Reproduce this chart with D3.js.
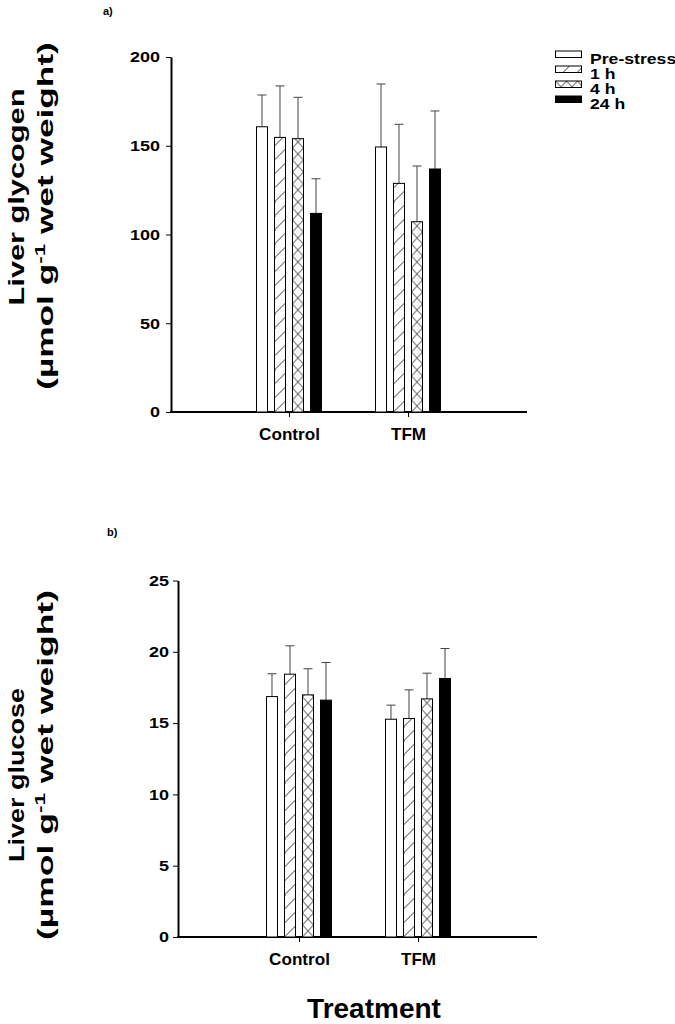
<!DOCTYPE html>
<html>
<head>
<meta charset="utf-8">
<script src="https://cdn.jsdelivr.net/npm/d3@7/dist/d3.min.js"></script>
<style>
  html, body { margin: 0; padding: 0; background: #fff; }
  svg { display: block; }
  text { font-family: "Liberation Sans", Arial, sans-serif; font-weight: bold; fill: #000; }
</style>
</head>
<body>
<svg id="chart" width="675" height="1024"></svg>
<script>
// ---------------- DATA ----------------
const categories = ["Control", "TFM"];
const series = ["Pre-stress", "1 h", "4 h", "24 h"];

const glycogenControl = [160.7, 154.7, 154.0, 111.9];
const glycogenTFM     = [149.3, 128.8, 107.2, 136.9];
const glycogenSEControl = [17.9, 29.0, 23.3, 19.5];
const glycogenSETFM     = [35.5, 33.3, 31.4, 32.7];
const glycogenTicks = [0, 50, 100, 150, 200];

const glucoseControl = [16.86, 18.43, 16.98, 16.61];
const glucoseTFM     = [15.27, 15.32, 16.70, 18.13];
const glucoseSEControl = [1.60, 1.99, 1.83, 2.64];
const glucoseSETFM     = [0.99, 2.01, 1.80, 2.10];
const glucoseTicks = [0, 5, 10, 15, 20, 25];

// ---------------- SETUP ----------------
const svg = d3.select("#chart");
const defs = svg.append("defs");
const fills = ["#fff", "hatch", "cross", "#000"];
const FONT = "'Liberation Sans', Arial, sans-serif";

let patId = 0;
function patternFill(kind, x, y) {
  if (kind === "hatch") {
    const id = "p" + (patId++);
    const p = defs.append("pattern").attr("id", id).attr("patternUnits", "userSpaceOnUse")
      .attr("x", x).attr("y", y).attr("width", 14).attr("height", 14);
    p.append("rect").attr("width", 14).attr("height", 14).attr("fill", "#fff");
    p.append("path").attr("d", "M0,14 L14,0 M-3,3 L3,-3 M11,17 L17,11")
      .attr("stroke", "#222").attr("stroke-width", 0.9).attr("fill", "none");
    return "url(#" + id + ")";
  }
  if (kind === "cross") {
    const id = "p" + (patId++);
    const p = defs.append("pattern").attr("id", id).attr("patternUnits", "userSpaceOnUse")
      .attr("x", x).attr("y", y).attr("width", 11).attr("height", 12);
    p.append("rect").attr("width", 11).attr("height", 12).attr("fill", "#fff");
    p.append("path").attr("d", "M0,0 L11,12 M11,0 L0,12")
      .attr("stroke", "#222").attr("stroke-width", 0.9).attr("fill", "none");
    return "url(#" + id + ")";
  }
  return kind;
}

function rotatedTitle(cx, cy, build, targetLen) {
  const g = svg.append("g");
  const t = g.append("text").attr("text-anchor", "middle").style("font-size", "22px");
  build(t);
  const w = t.node().getComputedTextLength();
  g.attr("transform", `translate(${cx},${cy}) rotate(-90) scale(${targetLen / w},1)`);
}

function drawPanel(cfg) {
  const y = d3.scaleLinear().domain(cfg.domain).range(cfg.yRange);
  const x = d3.scalePoint().domain(categories).range(cfg.catRange);
  const xs = d3.scaleBand().domain(series).range([-32.5, 32.5]).paddingInner(0.389);

  // y axis
  const yAxis = svg.append("g").attr("transform", `translate(${cfg.axisX},0)`)
    .call(d3.axisLeft(y).tickValues(cfg.ticks).tickSize(5).tickSizeOuter(0).tickPadding(6));
  yAxis.select(".domain").attr("stroke-width", 2).attr("stroke", "#000");
  yAxis.selectAll(".tick line").attr("stroke", "#000").attr("stroke-width", 1);
  yAxis.selectAll(".tick text").style("font-size", "15px").style("font-family", FONT)
    .style("font-weight", "bold").attr("fill", "#000")
    .attr("x", -cfg.labelGap / 1.2).attr("transform", "scale(1.2,1)");

  // x axis
  const base = y(0);
  svg.append("line").attr("x1", cfg.axisX - 1).attr("x2", cfg.axisEnd)
    .attr("y1", base).attr("y2", base).attr("stroke", "#000").attr("stroke-width", 2);
  const xAxis = svg.append("g").attr("transform", `translate(0,${base})`)
    .call(d3.axisBottom(x).tickSize(5).tickPadding(12));
  xAxis.select(".domain").remove();
  xAxis.selectAll(".tick line").attr("stroke", "#000").attr("stroke-width", 1);
  xAxis.selectAll(".tick text").style("font-size", "16px").style("font-family", FONT)
    .style("font-weight", "bold").attr("fill", "#000").attr("transform", "scale(1.07,1)");

  // bars
  const rows = [];
  categories.forEach((c, ci) => {
    series.forEach((s, si) => {
      rows.push({ cat: c, ser: s, si: si, mean: cfg.means[ci][si], se: cfg.ses[ci][si] });
    });
  });
  const barsG = svg.append("g");
  rows.forEach(d => {
    const bx = x(d.cat) + xs(d.ser);
    const bw = xs.bandwidth();
    const top = y(d.mean);
    const eTop = y(d.mean + d.se);
    const cxm = bx + bw / 2;
    barsG.append("line").attr("x1", cxm).attr("x2", cxm).attr("y1", top).attr("y2", eTop)
      .attr("stroke", "#444").attr("stroke-width", 1);
    barsG.append("line").attr("x1", cxm - 4.5).attr("x2", cxm + 4.5).attr("y1", eTop).attr("y2", eTop)
      .attr("stroke", "#444").attr("stroke-width", 1);
    barsG.append("rect").attr("x", bx).attr("y", top).attr("width", bw).attr("height", base - top)
      .attr("fill", patternFill(fills[d.si], bx, base))
      .attr("stroke", "#000").attr("stroke-width", 1);
  });
}

drawPanel({
  domain: [0, 200], ticks: glycogenTicks, yRange: [412, 57],
  axisX: 171, axisEnd: 527, catRange: [289, 408], labelGap: 11,
  means: [glycogenControl, glycogenTFM], ses: [glycogenSEControl, glycogenSETFM]
});
drawPanel({
  domain: [0, 25], ticks: glucoseTicks, yRange: [937, 580.5],
  axisX: 178, axisEnd: 537, catRange: [299, 418], labelGap: 9,
  means: [glucoseControl, glucoseTFM], ses: [glucoseSEControl, glucoseSETFM]
});

// legend
const legend = svg.append("g");
series.forEach((s, i) => {
  const ly = 51 + i * 15;
  legend.append("rect").attr("x", 555.5).attr("y", ly).attr("width", 26).attr("height", 6.5)
    .attr("fill", patternFill(fills[i], 555.5, ly)).attr("stroke", "#000").attr("stroke-width", 1);
  legend.append("text").attr("transform", `translate(590,${ly + 13}) scale(1.26,1)`)
    .style("font-size", "14px").text(s);
});

// panel labels
svg.append("text").attr("x", 103).attr("y", 15).style("font-size", "11px").text("a)");
svg.append("text").attr("x", 107).attr("y", 536).style("font-size", "11px").text("b)");

// y titles
function unitLine(t) {
  t.append("tspan").text("(µmol g");
  t.append("tspan").attr("dy", -8).style("font-size", "14px").text("-1");
  t.append("tspan").attr("dy", 8).text(" wet weight)");
}
rotatedTitle(24, 197, t => t.text("Liver glycogen"), 217);
rotatedTitle(53, 216, unitLine, 348);
rotatedTitle(24, 775, t => t.text("Liver glucose"), 174);
rotatedTitle(53, 765, unitLine, 350);

// x title
svg.append("text").attr("x", 374).attr("y", 1018).attr("text-anchor", "middle")
  .style("font-size", "28px").text("Treatment");
</script>
</body>
</html>
